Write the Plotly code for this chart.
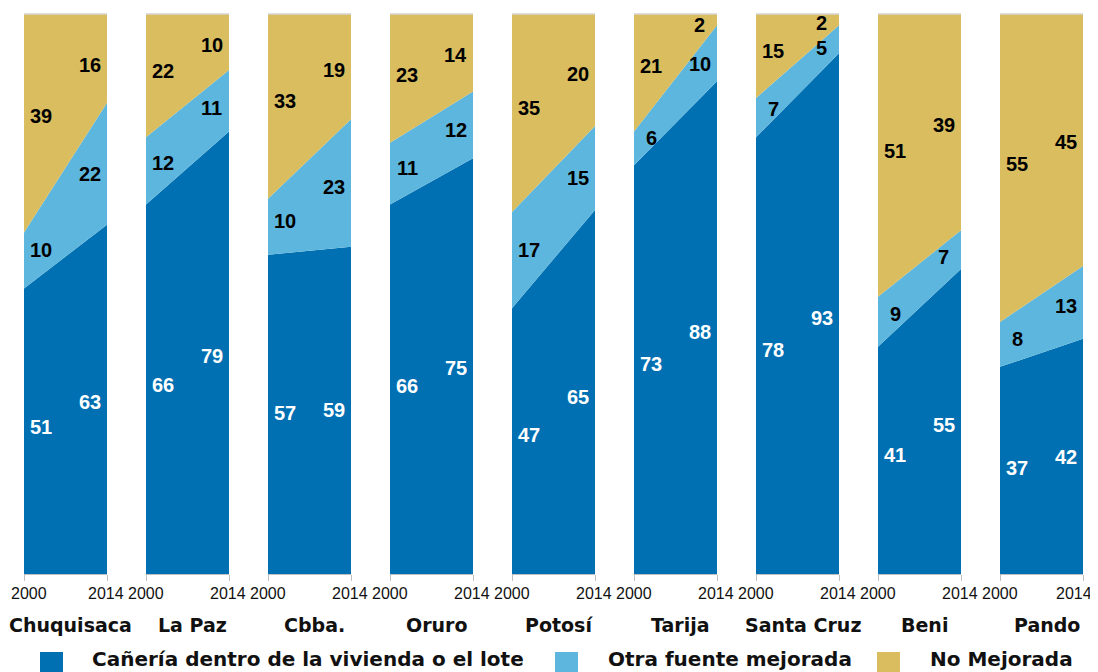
import plotly.graph_objects as go

departments = ["Chuquisaca", "La Paz", "Cbba.", "Oruro", "Potosí", "Tarija", "Santa Cruz", "Beni", "Pando"]
years = [2000, 2014]
tick_labels = ["2000", "2014"]
canieria_2000 = [51, 66, 57, 66, 47, 73, 78, 41, 37]
canieria_2014 = [63, 79, 59, 75, 65, 88, 93, 55, 42]
otra_2000 = [10, 12, 10, 11, 17, 6, 7, 9, 8]
otra_2014 = [22, 11, 23, 12, 15, 10, 5, 7, 13]
nomej_2000 = [39, 22, 33, 23, 35, 21, 15, 51, 55]
nomej_2014 = [16, 10, 19, 14, 20, 2, 2, 39, 45]
series_names = ["Cañería dentro de la vivienda o el lote", "Otra fuente mejorada", "No Mejorada"]

colors = ["#0070B3", "#5DB6DD", "#D9BD5F"]
label_colors = ["white", "black", "black"]

# the page body has an 8px margin; size the figure so it lands on the 1098x672 view
OFF = 8
W, H = 1098 - OFF, 672 - OFF
ML, MT = 24 - OFF, 14 - OFF
PW = 1059
PH = 560
MR = W - ML - PW
MB = H - MT - PH
panel_w, gap = 83, 39

FONT_B = "DejaVu Sans"
FONT_N = "Liberation Sans"


def py(page_y):
    """page pixel y -> paper y"""
    return (574 - page_y) / PH


def px(page_x):
    """page pixel x -> paper x"""
    return (page_x - 24) / PW


fig = go.Figure()
series = [
    (canieria_2000, canieria_2014),
    (otra_2000, otra_2014),
    (nomej_2000, nomej_2014),
]


def pct_stack(vals, j):
    tot = sum(v[j] for v in vals)
    out, cum = [], 0.0
    for v in vals:
        p = v[j] / tot * 100
        out.append((cum, cum + p))
        cum += p
    return out


annotations = []
shapes = []
n = len(departments)
for i, dep in enumerate(departments):
    xa = "x" if i == 0 else f"x{i+1}"
    ya = "y" if i == 0 else f"y{i+1}"
    vals = [[s[0][i], s[1][i]] for s in series]
    for k, v in enumerate(vals):
        tr = dict(
            x=years, y=v, xaxis=xa, yaxis=ya, mode="none",
            stackgroup="g", fillcolor=colors[k], line=dict(width=0),
            name=series_names[k], showlegend=False, hoverinfo="skip",
        )
        if k == 0:
            tr["groupnorm"] = "percent"
        fig.add_trace(go.Scatter(**tr))
    # value labels
    st0 = pct_stack(vals, 0)
    st1 = pct_stack(vals, 1)
    for j in range(2):
        t = 0.1 if j == 0 else 0.88
        lx = 2000 + (2.9 if j == 0 else 14 - 2.9)
        for k, v in enumerate(vals):
            lo = st0[k][0] + t * (st1[k][0] - st0[k][0])
            hi = st0[k][1] + t * (st1[k][1] - st0[k][1])
            mid = (lo + hi) / 2
            annotations.append(dict(
                x=lx, y=mid, xref=xa, yref=ya, text=str(v[j]), showarrow=False,
                font=dict(family=FONT_N, size=20, color=label_colors[k], weight="bold"),
                xanchor="center", yanchor="middle", yshift=1,
            ))
    # year tick labels (kept inside the page at the outer edges)
    for j, yr in enumerate(years):
        if j == 0:
            xs = 5 if i == 0 else 0
        else:
            xs = -9 if i == n - 1 else -1.5
        annotations.append(dict(
            x=yr, y=py(593), xref=xa, yref="paper", text=tick_labels[j],
            showarrow=False, xanchor="center", yanchor="middle", xshift=xs,
            font=dict(family=FONT_N, size=16, color="#111111"),
        ))
    # thin light top edge of each panel
    shapes.append(dict(
        type="line", xref=f"{xa} domain", yref=f"{ya} domain",
        x0=0, x1=1, y0=1, y1=1, line=dict(color="#D4D4D4", width=1.5),
        layer="above",
    ))
    x0 = i * (panel_w + gap)
    dom = [x0 / PW, (x0 + panel_w) / PW]
    xkey = "xaxis" if i == 0 else f"xaxis{i+1}"
    ykey = "yaxis" if i == 0 else f"yaxis{i+1}"
    fig.layout[xkey] = dict(
        domain=dom, range=[2000, 2014], tickvals=years,
        ticks="outside", ticklen=6, tickcolor="#BFBFBF", showline=True,
        linecolor="#BFBFBF", showgrid=False, zeroline=False, anchor=ya,
        showticklabels=False, fixedrange=True, automargin=False,
    )
    fig.layout[ykey] = dict(
        domain=[0, 1], range=[0, 100], tickvals=[0, 20, 40, 60, 80, 100],
        showticklabels=False, showgrid=True, gridcolor="#D9D9D9", gridwidth=1,
        zeroline=False, anchor=xa, fixedrange=True, automargin=False,
    )
    annotations.append(dict(
        x=(x0 + panel_w / 2) / PW, y=py(625), xref="paper", yref="paper",
        text=dep, showarrow=False, xanchor="center", yanchor="middle", xshift=5,
        font=dict(family=FONT_B, size=19, color="#111111", weight="bold"),
    ))

# legend drawn as squares + text
leg_sq = [40, 555, 877]
leg_tx = [90, 606, 928]
for k in range(3):
    shapes.append(dict(
        type="rect", xref="paper", yref="paper",
        x0=px(leg_sq[k]), x1=px(leg_sq[k] + 23),
        y0=py(673), y1=py(652),
        fillcolor=colors[k], line=dict(width=0),
    ))
    annotations.append(dict(
        x=px(leg_tx[k]), y=py(659), xref="paper", yref="paper",
        text=series_names[k], showarrow=False, xanchor="left", yanchor="middle",
        font=dict(family=FONT_B, size=20, color="#111111", weight="bold"),
    ))

fig.update_layout(
    width=W, height=H, margin=dict(l=ML, r=MR, t=MT, b=MB, autoexpand=False),
    paper_bgcolor="white", plot_bgcolor="white",
    annotations=annotations, shapes=shapes, showlegend=False,
)
fig.write_html("out.html")
